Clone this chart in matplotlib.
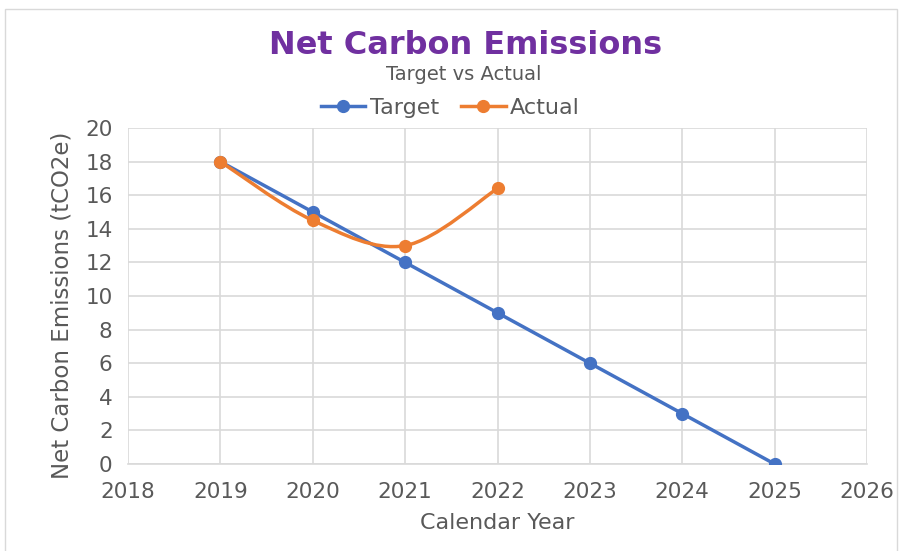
import numpy as np
import matplotlib
matplotlib.use("Agg")
import matplotlib.pyplot as plt
from matplotlib.path import Path
from matplotlib.patches import PathPatch, Rectangle
from matplotlib.lines import Line2D

# data
years_target = [2019, 2020, 2021, 2022, 2023, 2024, 2025]
target = [18, 15, 12, 9, 6, 3, 0]
years_actual = [2019, 2020, 2021, 2022]
actual = [18, 14.5, 13.0, 16.4]

blue = "#4472C4"
orange = "#ED7D31"
grey = "#595959"

plt.rcParams['font.family'] = ['DejaVu Sans']

fig = plt.figure(figsize=(9.01, 5.51), dpi=100)
fig.patches.append(Rectangle((0.006, -0.01), 0.99, 0.993, transform=fig.transFigure,
                             fill=False, edgecolor="#D9D9D9", linewidth=1))
ax = fig.add_axes([128 / 901, 1 - 464 / 551, (867 - 128) / 901, (464 - 128) / 551])


def smooth_path(xs, ys):
    # Excel-like smoothed line: cubic bezier, tangents from neighbours
    pts = np.column_stack([xs, ys]).astype(float)
    n = len(pts)
    verts = [pts[0]]
    codes = [Path.MOVETO]
    for i in range(n - 1):
        p0 = pts[i - 1] if i > 0 else pts[i]
        p1 = pts[i]
        p2 = pts[i + 1]
        p3 = pts[i + 2] if i + 2 < n else pts[i + 1]
        c1 = p1 + (p2 - p0) / 6
        c2 = p2 - (p3 - p1) / 6
        verts += [c1, c2, p2]
        codes += [Path.CURVE4] * 3
    return Path(verts, codes)


ax.plot(years_target, target, color=blue, lw=2.5, marker="o", ms=8.5, zorder=3)
ax.add_patch(PathPatch(smooth_path(years_actual, actual), fill=False,
                       edgecolor=orange, lw=2.5, zorder=4))
ax.plot(years_actual, actual, ls="none", color=orange, marker="o", ms=8.5, zorder=5)

ax.set_xlim(2018, 2026)
ax.set_ylim(0, 20)
ax.set_xticks(range(2018, 2027))
ax.set_yticks(range(0, 21, 2))
ax.grid(True, color="#D9D9D9", lw=1.2)
ax.set_axisbelow(True)
for s in ["top", "right", "left"]:
    ax.spines[s].set_visible(False)
ax.spines["bottom"].set_color("#D9D9D9")
ax.spines["bottom"].set_linewidth(1.2)
ax.tick_params(length=0, labelsize=15.5, labelcolor=grey)
ax.tick_params(axis="x", pad=13)
ax.tick_params(axis="y", pad=11)

ax.set_xlabel("Calendar Year", fontsize=16, color=grey)
ax.set_ylabel("Net Carbon Emissions (tCO2e)", fontsize=16.5, color=grey)
ax.xaxis.set_label_coords(0.5, -(523 - 464) / 336, transform=ax.transAxes)
ax.yaxis.set_label_coords(-(128 - 62) / 739, (464 - 305) / 336, transform=ax.transAxes)
ax.xaxis.label.set_va("center")
ax.yaxis.label.set_va("center")

fig.text(466 / 901, 1 - 46 / 551, "Net Carbon Emissions", ha="center", va="center",
         fontsize=23, fontweight="bold", color="#7030A0")
fig.text(464 / 901, 1 - 74 / 551, "Target vs Actual", ha="center", va="center",
         fontsize=14, color=grey)

handles = [Line2D([], [], color=blue, lw=2.5, marker="o", ms=8.5),
           Line2D([], [], color=orange, lw=2.5, marker="o", ms=8.5)]
fig.legend(handles, ["Target", "Actual"], loc="center", bbox_to_anchor=(0.5, 1 - 108 / 551),
           ncol=2, frameon=False, fontsize=16, labelcolor=grey,
           handlelength=2.0, handletextpad=0.2, columnspacing=1.0)

fig.savefig("out.png", dpi=100)
